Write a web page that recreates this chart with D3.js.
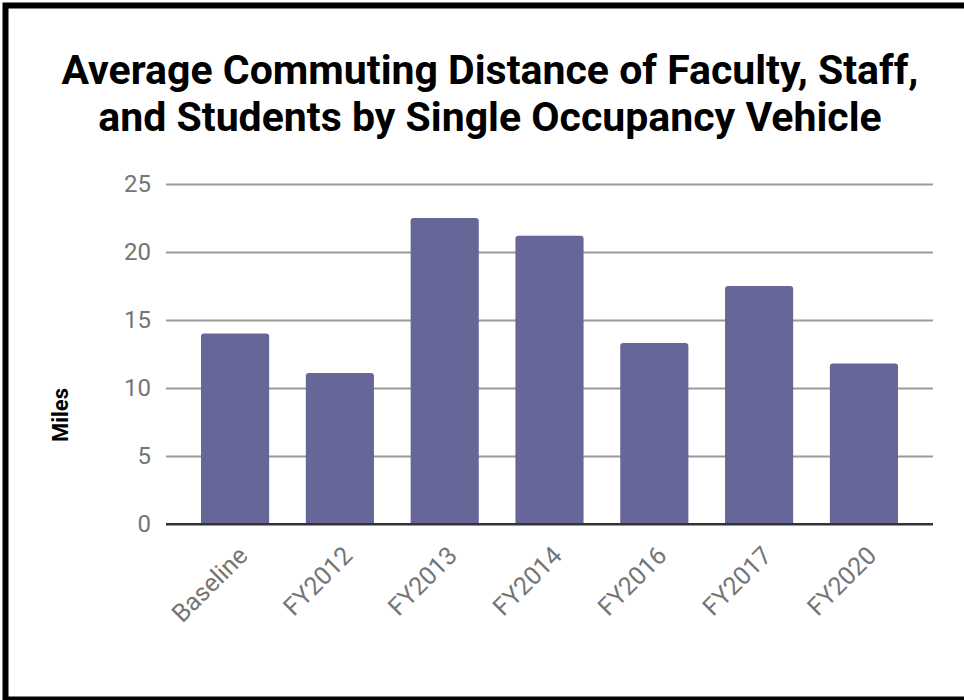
<!DOCTYPE html>
<html>
<head>
<meta charset="utf-8">
<script src="https://cdn.jsdelivr.net/npm/d3@7"></script>
<style>
  body { margin: 0; background: #fff; }
  svg { display: block; }
</style>
</head>
<body>
<script>
var categories = ["Baseline", "FY2012", "FY2013", "FY2014", "FY2016", "FY2017", "FY2020"];
var miles = [14.0, 11.1, 22.5, 21.2, 13.3, 17.5, 11.8];
var yTicks = [0, 5, 10, 15, 20, 25];
var titleLines = ["Average Commuting Distance of Faculty, Staff,", "and Students by Single Occupancy Vehicle"];

var width = 964, height = 700;
var plot = { left: 166, right: 933, top: 184, bottom: 524 };

var svg = d3.select("body").append("svg")
    .attr("width", width)
    .attr("height", height);

svg.append("rect")
    .attr("width", width).attr("height", height)
    .attr("fill", "#fff");

// frame
svg.append("rect")
    .attr("x", 5.5).attr("y", 5.5)
    .attr("width", 980).attr("height", 694)
    .attr("fill", "none")
    .attr("stroke", "#000")
    .attr("stroke-width", 6);

var xScale = d3.scaleBand()
    .domain(categories)
    .range([plot.left, plot.right])
    .paddingInner(0.35)
    .paddingOuter(0.334);

var yScale = d3.scaleLinear()
    .domain([0, 25])
    .range([plot.bottom, plot.top]);

// title
svg.append("g").selectAll("text")
    .data(titleLines)
    .enter().append("text")
    .attr("x", 490)
    .attr("y", function (d, i) { return 84 + i * 47; })
    .attr("text-anchor", "middle")
    .attr("font-family", "Roboto, sans-serif")
    .attr("font-weight", "bold")
    .attr("font-size", 41)
    .attr("fill", "#000")
    .text(function (d) { return d; });

// gridlines + y labels
var yAxis = d3.axisLeft(yScale)
    .tickValues(yTicks)
    .tickSize(-(plot.right - plot.left))
    .tickPadding(15);

var gy = svg.append("g")
    .attr("transform", "translate(" + plot.left + ",0)")
    .call(yAxis);

gy.select(".domain").remove();
gy.selectAll(".tick line")
    .attr("stroke", function (d) { return d === 0 ? "#333" : "#9a9a9a"; })
    .attr("stroke-width", 2);
gy.selectAll(".tick text")
    .attr("font-family", "Roboto, sans-serif")
    .attr("font-size", 24)
    .attr("fill", "#757575");

// bars
var r = 3;
svg.append("g").selectAll("path")
    .data(miles)
    .enter().append("path")
    .attr("fill", "#666699")
    .attr("d", function (d, i) {
        var x0 = xScale(categories[i]), w = xScale.bandwidth();
        var y0 = yScale(d), y1 = yScale(0);
        return "M" + x0 + "," + y1 +
            "V" + (y0 + r) +
            "Q" + x0 + "," + y0 + " " + (x0 + r) + "," + y0 +
            "H" + (x0 + w - r) +
            "Q" + (x0 + w) + "," + y0 + " " + (x0 + w) + "," + (y0 + r) +
            "V" + y1 + "Z";
    });

// zero line on top of bars
svg.append("line")
    .attr("x1", plot.left).attr("x2", plot.right)
    .attr("y1", yScale(0)).attr("y2", yScale(0))
    .attr("stroke", "#333")
    .attr("stroke-width", 2);

// x labels
var xAxis = d3.axisBottom(xScale).tickSize(0).tickPadding(0);
var gx = svg.append("g")
    .attr("transform", "translate(0," + plot.bottom + ")")
    .call(xAxis);
gx.select(".domain").remove();
gx.selectAll(".tick text")
    .attr("font-family", "Roboto, sans-serif")
    .attr("font-size", 25)
    .attr("fill", "#757575")
    .attr("text-anchor", "end")
    .attr("dy", null)
    .attr("y", 0)
    .attr("transform", "translate(14,33) rotate(-45)");

// y axis title
svg.append("text")
    .attr("transform", "translate(68,415) rotate(-90)")
    .attr("text-anchor", "middle")
    .attr("font-family", "Roboto, sans-serif")
    .attr("font-weight", "bold")
    .attr("font-size", 22)
    .attr("fill", "#000")
    .text("Miles");
</script>
</body>
</html>
